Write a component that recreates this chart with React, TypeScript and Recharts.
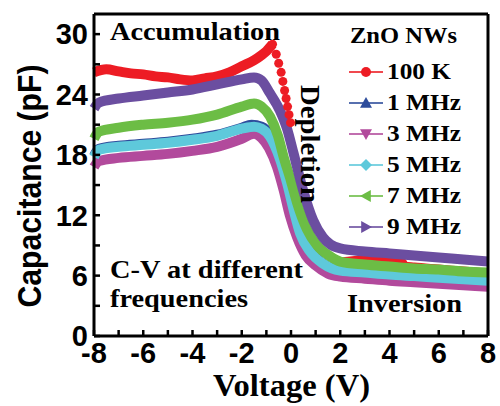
import React from 'react';
import { LineChart, Line, XAxis, YAxis } from 'recharts';

// tick values
const xTicks = [-8, -7, -6, -5, -4, -3, -2, -1, 0, 1, 2, 3, 4, 5, 6, 7, 8];
const yTicks = [0, 3, 6, 9, 12, 15, 18, 21, 24, 27, 30];

// 100 K (red) - accumulation, steep dotted part, inversion part
const xRed = [-8, -7.5, -7, -6.5, -6, -5.5, -5, -4.5, -4, -3.5, -3, -2.5, -2, -1.5, -1.2, -1.0, -0.75, -0.6, -0.5, -0.4, -0.33, -0.26, -0.2, -0.14, -0.08, -0.02, 2, 3, 4, 4.5, 4.6, 5, 6, 7, 8];
const cRed = [26.2, 26.5, 26.3, 26.1, 26.0, 25.8, 25.7, 25.5, 25.4, 25.6, 25.8, 26.2, 26.8, 27.4, 27.9, 28.3, 29.0, 28.0, 27.1, 26.2, 25.3, 24.4, 23.6, 22.8, 22.0, 21.2, 7.3, 7.5, 7.45, 7.3, 6.9, 6.8, 6.6, 6.4, 6.2];

// 1 MHz (blue)
const x1M = [-8, -7.8, -7, -6, -5, -4, -3, -2, -1.6, -1.2, -0.85, -0.45, -0.16, 0.1, 0.37, 0.77, 1.3, 2, 4, 6, 8];
const c1M = [17.9, 18.6, 18.9, 19.1, 19.3, 19.6, 20.0, 20.7, 21.0, 20.8, 20.0, 17.7, 15.3, 12.7, 10.3, 8.5, 7.2, 6.5, 6.1, 5.8, 5.5];

// 3 MHz (magenta)
const x3M = [-8, -7.8, -7, -6, -5, -4, -3, -2, -1.5, -1.2, -0.9, -0.57, -0.3, -0.05, 0.25, 0.6, 1.0, 1.5, 2, 3, 4, 5, 6, 7, 8];
const c3M = [16.8, 17.4, 17.7, 17.9, 18.1, 18.4, 18.8, 19.6, 20.1, 19.7, 18.7, 16.8, 14.5, 12.0, 9.8, 8.0, 7.0, 6.2, 5.9, 5.7, 5.5, 5.35, 5.2, 5.05, 4.9];

// 5 MHz (cyan)
const x5M = [-8, -7.8, -7, -6, -5, -4, -3, -2, -1.5, -1.2, -0.85, -0.45, -0.16, 0.1, 0.37, 0.77, 1.3, 2, 3, 4, 5, 6, 7, 8];
const c5M = [17.8, 18.5, 18.8, 19.0, 19.2, 19.5, 19.9, 20.6, 20.8, 20.6, 19.8, 17.6, 15.2, 12.6, 10.2, 8.4, 7.2, 6.5, 6.3, 6.1, 5.95, 5.8, 5.65, 5.5];

// 7 MHz (green)
const x7M = [-8, -7.8, -7, -6, -5, -4, -3, -2, -1.5, -1.2, -0.85, -0.53, -0.3, 0, 0.24, 0.65, 1.06, 1.6, 2, 3, 4, 5, 6, 7, 8];
const c7M = [19.6, 20.3, 20.7, 21.0, 21.2, 21.5, 22.0, 22.8, 23.1, 22.8, 21.8, 19.9, 17.8, 15.4, 13.3, 10.6, 9.0, 7.9, 7.4, 7.1, 6.9, 6.7, 6.6, 6.4, 6.3];

// 9 MHz (purple)
const x9M = [-8, -7.8, -7, -6, -5, -4, -3, -2, -1.5, -1.2, -0.85, -0.45, -0.16, 0.1, 0.49, 0.9, 1.3, 1.6, 2, 3, 4, 5, 6, 7, 8];
const c9M = [22.6, 23.2, 23.6, 23.9, 24.2, 24.5, 25.0, 25.5, 25.7, 25.4, 24.1, 22.4, 20.6, 18.2, 14.5, 11.5, 9.8, 9.1, 8.7, 8.4, 8.2, 8.0, 7.8, 7.6, 7.4];

const legendNames = ['100 K', '1 MHz', '3 MHz', '5 MHz', '7 MHz', '9 MHz'];
const legendColors = ['#ed1c24', '#2e4d9c', '#b24a9c', '#5ec9db', '#6cbd45', '#6b4ea0'];
const legendShapes = ['circle', 'up', 'down', 'diamond', 'left', 'right'];

const toRows = (xs: number[], ys: number[]) => xs.map((v, i) => ({ v, c: ys[i] }));

const redRows = toRows(xRed, cRed);
const redAccum = redRows.slice(0, 17);
const redDots = redRows.slice(16, 26);
const redInv = redRows.slice(26);

const serif = '"Liberation Serif", "Times New Roman", serif';
const sans = '"Liberation Sans", Arial, sans-serif';

const Marker = ({ shape, cx, cy, color }: { shape: string; cx: number; cy: number; color: string }) => {
    const s = 6;
    if (shape === 'circle') return <circle cx={cx} cy={cy} r={5} fill={color} />;
    let pts = '';
    if (shape === 'up') pts = `${cx},${cy - s} ${cx + s},${cy + s * 0.8} ${cx - s},${cy + s * 0.8}`;
    if (shape === 'down') pts = `${cx},${cy + s} ${cx + s},${cy - s * 0.8} ${cx - s},${cy - s * 0.8}`;
    if (shape === 'diamond') pts = `${cx},${cy - s} ${cx + s},${cy} ${cx},${cy + s} ${cx - s},${cy}`;
    if (shape === 'left') pts = `${cx - s},${cy} ${cx + s * 0.8},${cy - s} ${cx + s * 0.8},${cy + s}`;
    if (shape === 'right') pts = `${cx + s},${cy} ${cx - s * 0.8},${cy - s} ${cx - s * 0.8},${cy + s}`;
    return <polygon points={pts} fill={color} />;
};

const Overlay = () => {
    const rowBase = [79, 110, 141, 172, 203, 234];
    return (
        <svg width={500} height={406} style={{ position: 'absolute', left: 0, top: 0, pointerEvents: 'none' }}>
            <g fontFamily={serif} fontWeight="bold" fill="#000">
                <text x={110} y={40} fontSize={26} textLength={170} lengthAdjust="spacingAndGlyphs">Accumulation</text>
                <text x={301} y={85} fontSize={28} textLength={118} lengthAdjust="spacingAndGlyphs" transform="rotate(90, 301, 85)">Depletion</text>
                <text x={110} y={278} fontSize={25} textLength={193} lengthAdjust="spacingAndGlyphs">C-V at different</text>
                <text x={110} y={307} fontSize={25} textLength={138} lengthAdjust="spacingAndGlyphs">frequencies</text>
                <text x={347} y={312} fontSize={25} textLength={115} lengthAdjust="spacingAndGlyphs">Inversion</text>
                <text x={213} y={396} fontSize={31} textLength={157} lengthAdjust="spacingAndGlyphs">Voltage (V)</text>
                <text x={350} y={43} fontSize={24} textLength={107} lengthAdjust="spacingAndGlyphs">ZnO NWs</text>
                {legendNames.map((name, i) => (
                    <g key={name}>
                        <line x1={349} x2={383} y1={rowBase[i] - 7} y2={rowBase[i] - 7} stroke={legendColors[i]} strokeWidth={2} opacity={0.8} />
                        <Marker shape={legendShapes[i]} cx={366} cy={rowBase[i] - 7} color={legendColors[i]} />
                        <text x={387} y={rowBase[i]} fontSize={23} textLength={i === 0 ? 64 : 74} lengthAdjust="spacingAndGlyphs">{name}</text>
                    </g>
                ))}
            </g>
            <text x={41} y={186} fontFamily={sans} fontWeight="bold" fontSize={34} textAnchor="middle" textLength={243} lengthAdjust="spacingAndGlyphs" transform="rotate(-90, 41, 186)">Capacitance (pF)</text>
        </svg>
    );
};

const band = (rows: { v: number; c: number }[], color: string, key: string) => (
    <Line
        key={key}
        data={rows}
        xAxisId="b"
        yAxisId="l"
        dataKey="c"
        type="monotone"
        stroke={color}
        strokeWidth={10}
        strokeLinejoin="round"
        dot={false}
        activeDot={false}
        isAnimationActive={false}
    />
);

const App: React.FC = () => {
    const tickStyle = { fill: '#000', fontSize: 29, fontWeight: 'bold', fontFamily: sans };
    return (
        <div style={{ position: 'absolute', left: 0, top: 0, width: 500, height: 406, background: '#fff' }}>
            <LineChart width={500} height={406} margin={{ top: 13, right: 11, left: 0, bottom: 0 }}>
                <XAxis
                    xAxisId="b"
                    dataKey="v"
                    type="number"
                    domain={[-8, 8]}
                    ticks={xTicks}
                    interval={0}
                    height={70}
                    tickFormatter={(t: number) => (t % 2 === 0 ? String(t) : '')}
                    tick={tickStyle}
                    tickSize={-6}
                    tickMargin={12}
                    axisLine={{ stroke: '#000', strokeWidth: 3 }}
                    tickLine={{ stroke: '#000', strokeWidth: 2.5 }}
                />
                <XAxis
                    xAxisId="t"
                    orientation="top"
                    dataKey="v"
                    type="number"
                    domain={[-8, 8]}
                    ticks={xTicks}
                    interval={0}
                    height={1}
                    tick={false}
                    tickSize={-5}
                    axisLine={{ stroke: '#000', strokeWidth: 3 }}
                    tickLine={{ stroke: '#000', strokeWidth: 2 }}
                />
                <YAxis
                    yAxisId="l"
                    type="number"
                    domain={[0, 32]}
                    ticks={yTicks}
                    interval={0}
                    width={94}
                    tickFormatter={(t: number) => (t % 6 === 0 ? String(t) : '')}
                    tick={tickStyle}
                    tickSize={-6}
                    tickMargin={12}
                    axisLine={{ stroke: '#000', strokeWidth: 3 }}
                    tickLine={{ stroke: '#000', strokeWidth: 2.5 }}
                />
                <YAxis
                    yAxisId="r"
                    orientation="right"
                    type="number"
                    domain={[0, 32]}
                    ticks={yTicks}
                    interval={0}
                    width={1}
                    tick={false}
                    tickSize={-5}
                    axisLine={{ stroke: '#000', strokeWidth: 3 }}
                    tickLine={{ stroke: '#000', strokeWidth: 2 }}
                />
                {band(redAccum, legendColors[0], 'redA')}
                <Line
                    data={redDots}
                    xAxisId="b"
                    yAxisId="l"
                    dataKey="c"
                    stroke="none"
                    dot={{ r: 4.5, fill: legendColors[0], stroke: 'none' }}
                    activeDot={false}
                    isAnimationActive={false}
                />
                {band(redInv, legendColors[0], 'redI')}
                {band(toRows(x1M, c1M), legendColors[1], 'm1')}
                {band(toRows(x3M, c3M), legendColors[2], 'm3')}
                {band(toRows(x5M, c5M), legendColors[3], 'm5')}
                {band(toRows(x7M, c7M), legendColors[4], 'm7')}
                {band(toRows(x9M, c9M), legendColors[5], 'm9')}
            </LineChart>
            <Overlay />
        </div>
    );
};

export default App;
